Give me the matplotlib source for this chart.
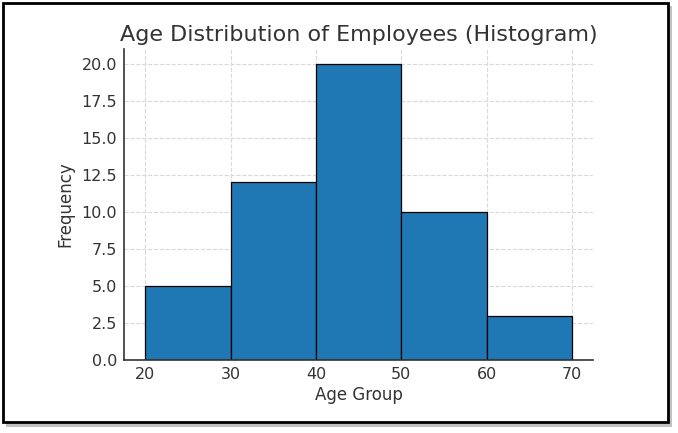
import matplotlib
matplotlib.use('Agg')
import matplotlib.pyplot as plt
from matplotlib.patches import Rectangle

# bins of the age groups and their counts
bin_edges = [20, 30, 40, 50, 60, 70]
counts = [5, 12, 20, 10, 3]
y_ticks = [0.0, 2.5, 5.0, 7.5, 10.0, 12.5, 15.0, 17.5, 20.0]

TEXT_COLOR = '#333333'

fig = plt.figure(figsize=(6.78, 4.33), dpi=100)
ax = fig.add_axes([0.183, 0.1686, 0.692, 0.718])

# histogram from the counts per bin
ax.hist(bin_edges[:-1], bins=bin_edges, weights=counts,
        color='#1f77b4', edgecolor='black', linewidth=0.9)

ax.set_yticks(y_ticks)
ax.set_yticklabels(['%.1f' % t for t in y_ticks])
ax.set_xticks([20, 30, 40, 50, 60, 70])

ax.grid(True, linestyle='--', color='#d9d9d9', linewidth=0.8)
ax.set_axisbelow(True)
ax.spines['top'].set_visible(False)
ax.spines['right'].set_visible(False)
for s in ['left', 'bottom']:
    ax.spines[s].set_color('#333333')
    ax.spines[s].set_linewidth(1.2)

ax.tick_params(colors=TEXT_COLOR, labelsize=11.5, length=0, pad=5)
ax.set_title('Age Distribution of Employees (Histogram)', fontsize=16, color=TEXT_COLOR, pad=6)
ax.set_xlabel('Age Group', fontsize=12, color=TEXT_COLOR, labelpad=3)
ax.set_ylabel('Frequency', fontsize=12, color=TEXT_COLOR, labelpad=5)

# frame with a little shadow around the whole picture
W, H = 678, 433
fig.patches.append(Rectangle((6 / W, 1 - 427 / H), 666 / W, 421 / H,
                             transform=fig.transFigure, facecolor='#9a9a9a',
                             edgecolor='none', alpha=0.6, zorder=-2))
fig.patches.append(Rectangle((3 / W, 1 - 422 / H), 665 / W, 419 / H,
                             transform=fig.transFigure, facecolor='white',
                             edgecolor='black', linewidth=2, zorder=-1))

fig.savefig('out.png', dpi=100)
